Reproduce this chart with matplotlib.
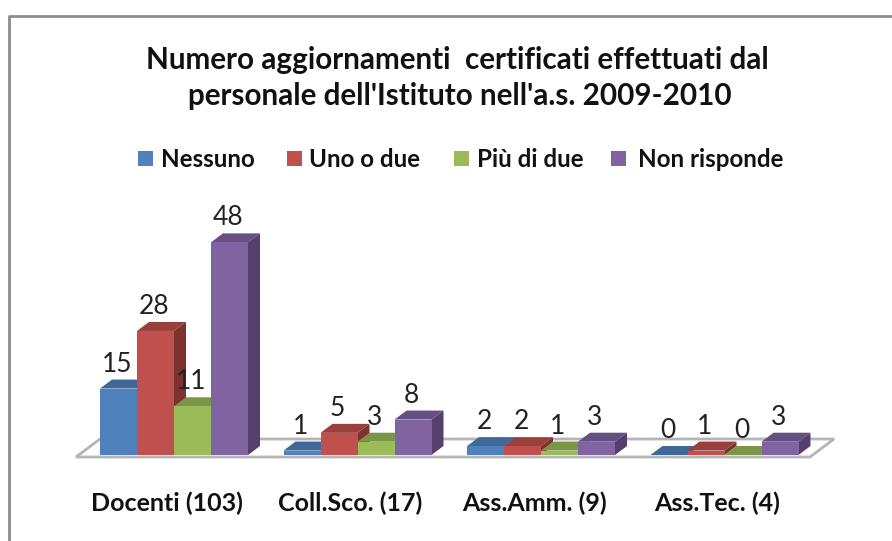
#!/usr/bin/env python3
"""Pseudo-3D column chart, Excel style. Run: python3 plot.py -> out.png"""
import matplotlib
matplotlib.use("Agg")
import matplotlib.pyplot as plt
from matplotlib.patches import Polygon, Rectangle

CATEGORIES = ["Docenti (103)", "Coll.Sco. (17)", "Ass.Amm. (9)", "Ass.Tec. (4)"]
SERIES = ["Nessuno", "Uno o due", "Più di due", "Non risponde"]
NESSUNO = [15, 1, 2, 0]
UNO_O_DUE = [28, 5, 2, 1]
PIU_DI_DUE = [11, 3, 1, 0]
NON_RISPONDE = [48, 8, 3, 3]
VALUES = [NESSUNO, UNO_O_DUE, PIU_DI_DUE, NON_RISPONDE]

FRONT = ["#4f81bd", "#c0504d", "#9bbb59", "#8064a2"]
TOP = ["#3f6797", "#99403d", "#7c9647", "#665082"]
SIDE = ["#2f4d71", "#7d322f", "#5d7035", "#553f6e"]

W, H = 892, 541
GROUP_PX = 183.5
UNIT_PX = 4.43
BAR_PX = 37
DX_PX, DY_PX = 12, 9
X0_PX, Y0_PX = 174, 455  # pixel of group 0 centre / value 0

plt.rcParams["font.family"] = ["Lato", "DejaVu Sans"]
fig = plt.figure(figsize=(W / 100, H / 100), dpi=100)

# axes in which one x unit is one group and one y unit is one answer
left, right, bottom, top = 60, 850, 455, 200
ax = fig.add_axes([left / W, 1 - bottom / H, (right - left) / W, (bottom - top) / H])
ax.set_xlim((left - X0_PX) / GROUP_PX, (right - X0_PX) / GROUP_PX)
ax.set_ylim(0, (bottom - top) / UNIT_PX)
ax.axis("off")

bw = BAR_PX / GROUP_PX
dx, dy = DX_PX / GROUP_PX, DY_PX / UNIT_PX


def px(x, y):
    return (x - X0_PX) / GROUP_PX, (Y0_PX - y) / UNIT_PX


# outer frame, runs off the right and bottom of the picture
fig.add_artist(plt.Line2D([9 / W, 9 / W, 1], [0, 1 - 16 / H, 1 - 16 / H],
                          color="#8c8c8c", lw=2))

# floor
floor = [px(76, 457), px(100, 439), px(834, 439), px(810, 457)]
ax.add_patch(Polygon(floor, closed=True, fc="white", ec="#b5b5b5", lw=2, clip_on=False, zorder=1))

z = 2
for g in range(len(CATEGORIES)):
    for s in range(len(SERIES)):
        v = VALUES[s][g]
        x0 = g + (s - 2) * bw
        x1 = x0 + bw
        ax.add_patch(Polygon([(x0, v), (x0 + dx, v + dy), (x1 + dx, v + dy), (x1, v)],
                             closed=True, fc=TOP[s], ec="none", zorder=z))
        ax.add_patch(Polygon([(x1, 0), (x1 + dx, dy), (x1 + dx, v + dy), (x1, v)],
                             closed=True, fc=SIDE[s], ec="none", zorder=z))
        ax.bar(x0, v, width=bw, align="edge", color=FRONT[s], zorder=z + 0.5)
        z += 1
        ax.text(x0 + bw / 2 - 1.5 / GROUP_PX, v + 24.5 / UNIT_PX, str(v), ha="center", va="center",
                fontsize=19, color="#222222", zorder=50)

for g, name in enumerate(CATEGORIES):
    fig.text((X0_PX - 7 + g * GROUP_PX) / W, 1 - 503 / H, name, ha="center", va="center",
             fontsize=18, fontweight="bold", color="#111111")

fig.text(457 / W, 1 - 59.5 / H, "Numero aggiornamenti  certificati effettuati dal", ha="center", va="center",
         fontsize=21.3, fontweight="bold", color="#111111")
fig.text(459.5 / W, 1 - 96.5 / H, "personale dell'Istituto nell'a.s. 2009-2010", ha="center", va="center",
         fontsize=21.3, fontweight="bold", color="#111111")

# legend, laid out by hand to hit the original spacing
for name, col, sx, tx in zip(SERIES, FRONT, [138, 287, 454, 611], [161, 309, 477, 638]):
    fig.add_artist(Rectangle((sx / W, 1 - 166 / H), 15 / W, 15 / H, fc=col, ec="none",
                             transform=fig.transFigure))
    fig.text(tx / W, 1 - 159.5 / H, name, ha="left", va="center", fontsize=17.4, fontweight="bold",
             color="#111111")

fig.savefig("out.png", dpi=100)
print("wrote out.png")
